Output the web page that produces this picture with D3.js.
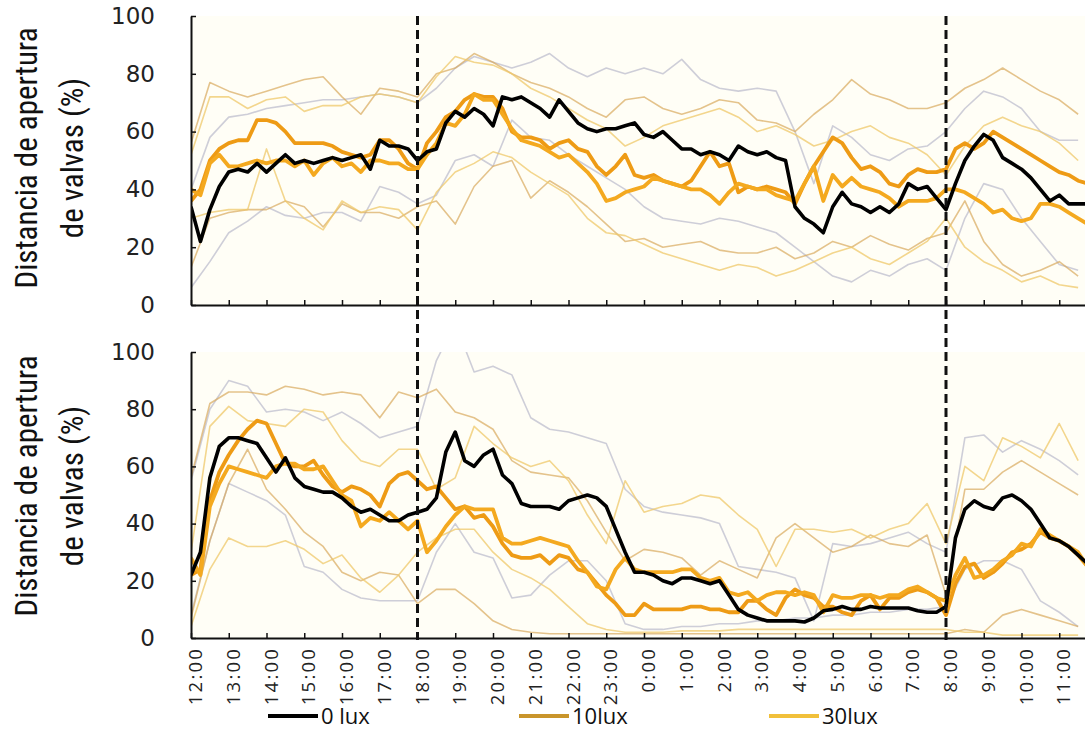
<!DOCTYPE html>
<html>
<head>
<meta charset="utf-8">
<script src="https://cdn.jsdelivr.net/npm/d3@7/dist/d3.min.js"></script>
<style>
	body { margin: 0; background: #ffffff; }
	svg { display: block; }
	.y-title { font-family: 'Liberation Sans Narrow', 'Roboto Condensed', 'Liberation Sans', sans-serif; font-size: 31px; fill: #111; }
	.y-axis text { font-family: 'DejaVu Sans', sans-serif; font-size: 23px; fill: #222; }
	.x-axis text { font-family: 'Open Sans', sans-serif; font-size: 18.5px; fill: #222; letter-spacing: 2.2px; }
	.legend text { font-family: 'Open Sans', sans-serif; font-size: 22px; fill: #111; }
</style>
</head>
<body>
<div id="chart"></div>
<script>
// x labels, one per hour starting at 12:00
const hourLabels = ["12:00", "13:00", "14:00", "15:00", "16:00", "17:00", "18:00", "19:00", "20:00", "21:00", "22:00", "23:00",
	"0:00", "1:00", "2:00", "3:00", "4:00", "5:00", "6:00", "7:00", "8:00", "9:00", "10:00", "11:00"];
const lightChanges = [6, 20];   // 18:00 and 8:00 (hours after 12:00)
const yTicks = [0, 20, 40, 60, 80, 100];
const legendLabels = ["0 lux", "10lux", "30lux"];

// ---- upper panel, means every 15 min ----
const top0lux = [34, 22, 33, 41, 46, 47, 46, 49, 46, 49, 52, 49, 50, 49, 50, 51, 50, 51, 52, 47,
	57, 55, 55, 54, 50, 53, 54, 63, 67, 65, 68, 66, 62, 72, 71, 72, 70, 68, 65, 71,
	67, 63, 61, 60, 61, 61, 62, 63, 59, 58, 60, 57, 54, 54, 52, 53, 52, 50, 55, 53,
	52, 53, 51, 50, 34, 30, 28, 25, 34, 39, 35, 34, 32, 34, 32, 35, 42, 40, 41, 37,
	33, 42, 50, 55, 59, 57, 51, 49, 47, 44, 40, 36, 38, 35, 35, 35];
const topMeanA = [36, 40, 50, 54, 56, 57, 57, 64, 64, 63, 60, 56, 56, 56, 56, 55, 53, 52, 51, 52,
	57, 57, 54, 49, 47, 56, 60, 65, 67, 71, 73, 72, 72, 68, 60, 58, 58, 57, 54, 56,
	57, 54, 53, 48, 45, 48, 52, 45, 44, 45, 43, 42, 41, 43, 48, 53, 48, 49, 39, 41,
	40, 41, 40, 39, 35, 42, 48, 53, 58, 56, 51, 47, 48, 46, 42, 41, 45, 47, 46, 46,
	47, 54, 56, 54, 56, 60, 58, 56, 54, 52, 50, 48, 46, 45, 43, 42];
const topMeanB = [40, 38, 49, 52, 48, 48, 49, 50, 49, 50, 50, 48, 50, 45, 49, 51, 48, 49, 46, 50,
	50, 49, 49, 47, 47, 52, 56, 63, 62, 66, 73, 71, 71, 66, 61, 57, 56, 55, 53, 51,
	52, 49, 46, 42, 36, 37, 39, 40, 41, 44, 43, 42, 41, 40, 40, 38, 35, 39, 42, 41,
	40, 40, 38, 37, 36, 42, 48, 36, 45, 41, 44, 41, 40, 39, 37, 34, 36, 36, 36, 37,
	40, 40, 39, 37, 35, 32, 33, 30, 29, 30, 35, 35, 34, 32, 30, 28];

// ---- upper panel, single animals every 30 min ----
const top10a = [56, 77, 74, 72, 74, 76, 78, 79, 72, 66, 75, 74, 72, 80, 82, 87, 84, 80, 77, 75,
	72, 68, 65, 71, 72, 68, 66, 68, 71, 70, 64, 63, 60, 66, 71, 78, 73, 71, 68, 68,
	70, 75, 78, 82, 78, 74, 71, 66];
const top30a = [52, 72, 72, 68, 71, 72, 67, 69, 69, 72, 73, 72, 70, 79, 86, 84, 83, 80, 75, 72,
	68, 64, 61, 55, 58, 62, 64, 66, 68, 65, 60, 62, 59, 55, 57, 60, 62, 58, 56, 52,
	45, 55, 62, 65, 62, 60, 56, 50];
const top10b = [13, 30, 32, 33, 33, 36, 34, 27, 35, 32, 32, 30, 34, 36, 28, 41, 48, 50, 37, 43,
	39, 34, 28, 22, 23, 20, 21, 22, 19, 18, 18, 20, 16, 18, 22, 20, 24, 21, 19, 23,
	25, 36, 22, 14, 10, 12, 15, 10];
const top30b = [30, 32, 33, 33, 54, 36, 30, 26, 36, 32, 34, 33, 26, 39, 46, 49, 53, 51, 46, 42,
	38, 30, 25, 24, 21, 18, 16, 14, 12, 14, 13, 10, 12, 15, 18, 20, 16, 14, 18, 22,
	30, 20, 15, 12, 8, 10, 7, 6];
const topGrey1 = [40, 58, 65, 66, 68, 69, 70, 71, 71, 72, 73, 72, 70, 75, 82, 86, 84, 82, 84, 87,
	82, 79, 82, 80, 82, 80, 85, 78, 75, 74, 75, 74, 60, 42, 62, 58, 52, 50, 54, 55,
	60, 68, 74, 72, 68, 60, 57, 57];
const topGrey2 = [6, 15, 25, 29, 34, 31, 30, 32, 32, 29, 41, 39, 35, 38, 50, 52, 48, 64, 58, 57,
	52, 48, 44, 40, 34, 30, 29, 28, 30, 29, 27, 25, 20, 15, 10, 8, 12, 10, 14, 16,
	12, 30, 42, 40, 30, 22, 14, 12];

// ---- lower panel, means every 15 min ----
const bot0lux = [22, 30, 56, 67, 70, 70, 69, 68, 63, 58, 63, 56, 53, 52, 51, 51, 49, 46, 44, 45,
	43, 41, 41, 43, 44, 45, 49, 65, 72, 62, 60, 64, 66, 57, 54, 47, 46, 46, 46, 45,
	48, 49, 50, 49, 46, 38, 30, 23, 23, 22, 20, 19, 21, 21, 20, 19, 20, 15, 10, 8,
	7, 6, 6, 6, 6, 5.6, 7, 9.5, 10, 11, 10, 10, 11, 10.5, 10.5, 10.5, 10.5, 9.5, 9, 9,
	11, 35, 45, 48, 46, 45, 49, 50, 48, 45, 40, 35, 34, 32, 29, 26];
const botMeanA = [22, 24, 48, 58, 64, 69, 73, 76, 75, 68, 61, 60, 60, 62, 57, 53, 51, 53, 52, 50,
	46, 54, 57, 58, 55, 52, 53, 49, 45, 46, 42, 43, 39, 33, 29, 28, 28, 29, 26, 29,
	28, 24, 23, 19, 15, 12, 8, 8, 12, 10, 10, 10, 10, 11, 11, 10, 10, 9, 9, 13,
	13, 10, 8, 14, 17, 15, 14, 11, 11, 9, 8, 13, 15, 10, 14, 14, 16, 17, 16, 14,
	8, 19, 25, 26, 21, 23, 26, 30, 31, 33, 37, 35, 34, 32, 29, 25];
const botMeanB = [28, 22, 46, 54, 60, 59, 58, 57, 56, 60, 61, 61, 59, 59, 60, 55, 50, 48, 39, 42,
	41, 44, 41, 38, 41, 30, 34, 39, 43, 46, 45, 45, 45, 35, 33, 33, 34, 35, 34, 33,
	32, 27, 23, 18, 17, 24, 28, 24, 23, 23, 23, 23, 24, 24, 21, 20, 21, 16, 15, 16,
	13, 15, 16, 16, 15, 16, 15, 9, 15, 14, 14, 15, 15, 14, 15, 15, 17, 18, 16, 14,
	13, 22, 28, 21, 22, 24, 27, 29, 33, 32, 38, 36, 34, 32, 30, 25];

// ---- lower panel, single animals every 30 min ----
const bot10a = [56, 82, 86, 86, 85, 88, 87, 85, 86, 85, 77, 86, 84, 87, 79, 77, 73, 62, 58, 57,
	56, 48, 37, 27, 31, 30, 28, 22, 27, 24, 21, 35, 40, 35, 30, 32, 36, 33, 32, 36,
	15, 52, 52, 58, 62, 58, 54, 50];
const bot30a = [30, 74, 81, 76, 75, 74, 80, 79, 69, 62, 60, 66, 66, 52, 56, 74, 68, 63, 60, 62,
	55, 43, 33, 55, 44, 46, 47, 50, 49, 43, 38, 25, 38, 38, 37, 38, 35, 38, 40, 47,
	33, 60, 55, 70, 67, 63, 75, 62];
const bot30b = [4, 24, 35, 32, 32, 34, 31, 26, 29, 21, 16, 22, 30, 35, 38, 38, 30, 24, 21, 17,
	11, 5, 3, 2, 2, 2, 2.5, 2.5, 2.5, 3, 3, 3, 3, 3, 3, 3, 3, 3, 3, 3,
	3, 2, 2, 1, 1, 1, 1, 1];
const bot10b = [7, 34, 54, 66, 52, 45, 37, 32, 23, 20, 23, 22, 12, 17, 17, 12, 6, 3, 2, 1.5,
	1.5, 1.5, 1.5, 1.5, 1.5, 1.5, 1.5, 1.5, 1.5, 1.5, 1.5, 1.5, 1.5, 1.5, 1.5, 1.5, 1.5, 1.5, 1.5, 1.5,
	1.5, 3, 2, 8, 10, 8, 6, 4];
const botGrey1 = [55, 80, 90, 88, 79, 80, 79, 76, 79, 75, 70, 72, 74, 97, 110, 93, 95, 92, 77, 73,
	72, 70, 68, 52, 46, 44, 43, 42, 40, 25, 24, 23, 21, 6, 33, 32, 33, 35, 37, 33,
	30, 70, 71, 65, 69, 66, 62, 57];
const botGrey2 = [8, 34, 54, 51, 48, 43, 25, 23, 17, 14, 13, 13, 13, 30, 40, 30, 28, 14, 15, 22,
	27, 27, 20, 5, 3, 3, 4, 4, 5, 5, 6, 6, 7, 7, 8, 8, 9, 9, 10, 10,
	11, 24, 27, 27, 24, 13, 9, 4];

const colorGrey = "#c6c6d2";
const color10thin = "#d8aa5e";
const color30thin = "#efc86a";
const meanColors = ["#ee9b15", "#f4a91f"];
const legendColors = ["#000000", "#c9952b", "#f1c03a"];

const width = 1085, height = 748;
const plotRight = 1085;

// sample times in hours after 12:00
const t15 = d3.range(top0lux.length).map(i => i / 4);
const t30 = d3.range(top10a.length).map(i => i / 2);

const x = d3.scaleLinear().domain([0, 24]).range([191, 1097]);

const svg = d3.select("#chart")
	.append("svg")
	.attr("width", width)
	.attr("height", height);

const panels = [
	{ id: "top", y0: 305, y1: 16, showLabels: false, titleY: 158,
		grey: [topGrey1, topGrey2], thin10: [top10a, top10b], thin30: [top30a, top30b],
		means: [topMeanA, topMeanB], black: top0lux },
	{ id: "bot", y0: 638, y1: 352, showLabels: true, titleY: 486,
		grey: [botGrey1, botGrey2], thin10: [bot10a, bot10b], thin30: [bot30a, bot30b],
		means: [botMeanA, botMeanB], black: bot0lux }
];

function drawPanel(p) {
	const y = d3.scaleLinear().domain([0, 100]).range([p.y0, p.y1]);
	const g = svg.append("g").attr("class", "panel-" + p.id);

	// pale plot background
	g.append("rect")
		.attr("x", x(0))
		.attr("y", p.y1)
		.attr("width", plotRight - x(0))
		.attr("height", p.y0 - p.y1)
		.attr("fill", "#fffef6");

	svg.append("clipPath")
		.attr("id", "clip-" + p.id)
		.append("rect")
		.attr("x", x(0))
		.attr("y", p.y1)
		.attr("width", plotRight - x(0))
		.attr("height", p.y0 - p.y1);

	const lines = g.append("g").attr("clip-path", `url(#clip-${p.id})`);

	const thinLine = d3.line().x((d, i) => x(t30[i])).y(d => y(d));
	const thickLine = d3.line().x((d, i) => x(t15[i])).y(d => y(d));

	// individual animals
	const thin = [
		...p.grey.map(v => ({ v, c: colorGrey, o: 0.85 })),
		...p.thin10.map(v => ({ v, c: color10thin, o: 0.7 })),
		...p.thin30.map(v => ({ v, c: color30thin, o: 0.75 }))
	];
	lines.selectAll(".thin")
		.data(thin)
		.enter()
		.append("path")
		.attr("class", "thin")
		.attr("d", d => thinLine(d.v))
		.attr("fill", "none")
		.attr("stroke", d => d.c)
		.attr("stroke-opacity", d => d.o)
		.attr("stroke-width", 1.6)
		.attr("stroke-linejoin", "round");

	// means
	lines.selectAll(".mean")
		.data(p.means)
		.enter()
		.append("path")
		.attr("class", "mean")
		.attr("d", d => thickLine(d))
		.attr("fill", "none")
		.attr("stroke", (d, i) => meanColors[i])
		.attr("stroke-width", 3.8)
		.attr("stroke-linejoin", "round");

	lines.append("path")
		.attr("d", thickLine(p.black))
		.attr("fill", "none")
		.attr("stroke", "#000")
		.attr("stroke-width", 3.6)
		.attr("stroke-linejoin", "round");

	// y axis with inward ticks
	const yAxis = d3.axisLeft(y)
		.tickValues(yTicks)
		.tickSize(-5)
		.tickSizeOuter(0)
		.tickPadding(36);
	const yg = g.append("g")
		.attr("class", "y-axis")
		.attr("transform", `translate(${x(0)},0)`)
		.call(yAxis);
	yg.select(".domain").attr("stroke", "#111").attr("stroke-width", 2);
	yg.selectAll(".tick line").attr("stroke", "#111").attr("stroke-width", 1.5);

	// x axis, hour ticks pointing up
	const xAxis = d3.axisBottom(x)
		.tickValues(d3.range(hourLabels.length))
		.tickSize(-5)
		.tickSizeOuter(0)
		.tickFormat((d, i) => p.showLabels ? hourLabels[i] : "");
	const xg = g.append("g")
		.attr("class", "x-axis")
		.attr("transform", `translate(0,${p.y0})`)
		.call(xAxis);
	xg.select(".domain").attr("stroke", "#111").attr("stroke-width", 2);
	xg.selectAll(".tick line").attr("stroke", "#111").attr("stroke-width", 1.5);
	if (p.showLabels) {
		xg.selectAll(".tick text")
			.attr("transform", "rotate(-90)")
			.attr("text-anchor", "end")
			.attr("x", -9)
			.attr("y", 4)
			.attr("dy", "0.36em");
	}

	// y title, two lines
	const title = g.append("text")
		.attr("class", "y-title")
		.attr("text-anchor", "middle")
		.attr("transform", `translate(0,${p.titleY}) rotate(-90)`);
	title.append("tspan").attr("x", 0).attr("y", 37).text("Distancia de apertura");
	title.append("tspan").attr("x", 0).attr("y", 83).text("de valvas (%)");
}

panels.forEach(drawPanel);

// dashed lines at lights off / on, crossing both panels
svg.selectAll(".light-change")
	.data(lightChanges)
	.enter()
	.append("line")
	.attr("class", "light-change")
	.attr("x1", d => x(d))
	.attr("x2", d => x(d))
	.attr("y1", 16)
	.attr("y2", 640)
	.attr("stroke", "#111")
	.attr("stroke-width", 3)
	.attr("stroke-dasharray", "9,5");

// legend
const legend = svg.append("g").attr("class", "legend");
const legendX = [268, 519, 769];
legendLabels.forEach((label, i) => {
	legend.append("line")
		.attr("x1", legendX[i])
		.attr("x2", legendX[i] + 50)
		.attr("y1", 716)
		.attr("y2", 716)
		.attr("stroke", legendColors[i])
		.attr("stroke-width", 4);
	legend.append("text")
		.attr("x", legendX[i] + 53)
		.attr("y", 716)
		.attr("dy", "0.36em")
		.text(label);
});
</script>
</body>
</html>
